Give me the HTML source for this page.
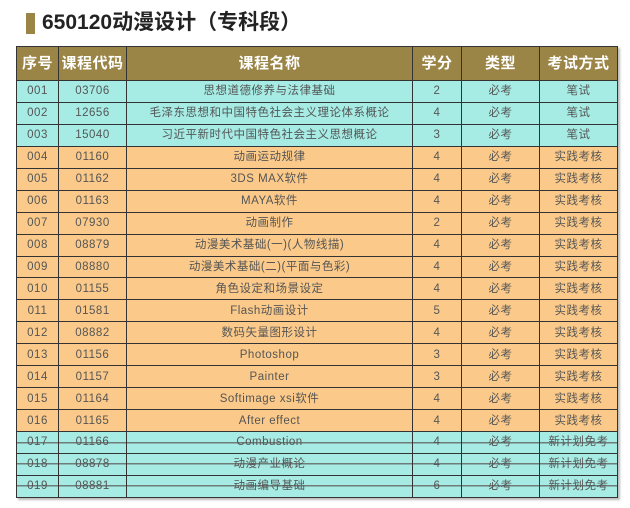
<!DOCTYPE html>
<html><head><meta charset="utf-8"><style>
body{margin:0;width:630px;height:508px;background:#fff;position:relative;font-family:"Liberation Sans","Noto Sans CJK SC",sans-serif;overflow:hidden}
.bar{position:absolute;left:26px;top:13px;width:9px;height:21px;background:#9a8446}
.title{position:absolute;left:42px;top:8px;font-size:21px;font-weight:bold;color:#222;line-height:30px}
table{position:absolute;left:16px;top:46px;border-collapse:collapse;table-layout:fixed;width:601px;box-shadow:2px 2px 2px #bbb}
td,th{border:1.5px solid #333;text-align:center;padding:0;font-size:11.5px;color:#555;letter-spacing:0.5px;line-height:14px}
th{background:#9a8446;color:#fff;font-size:15px;height:33px;font-weight:bold}
tr.c,tr.o,tr.s{height:21.95px}
tr.c td{background:#a6ece4}
tr.o td{background:#fbca8a}
tr.s td{background:linear-gradient(transparent 46%,#6f7c7a 46%,#6f7c7a 53%,transparent 53%),#a6ece4}
</style></head><body>
<div class="bar"></div><div class="title">650120动漫设计（专科段）</div>
<table>
<colgroup><col style="width:42px"><col style="width:68px"><col style="width:286px"><col style="width:49px"><col style="width:78px"><col style="width:78px"></colgroup>
<tr><th>序号</th><th>课程代码</th><th>课程名称</th><th>学分</th><th>类型</th><th>考试方式</th></tr>
<tr class="c"><td>001</td><td>03706</td><td>思想道德修养与法律基础</td><td>2</td><td>必考</td><td>笔试</td></tr>
<tr class="c"><td>002</td><td>12656</td><td>毛泽东思想和中国特色社会主义理论体系概论</td><td>4</td><td>必考</td><td>笔试</td></tr>
<tr class="c"><td>003</td><td>15040</td><td>习近平新时代中国特色社会主义思想概论</td><td>3</td><td>必考</td><td>笔试</td></tr>
<tr class="o"><td>004</td><td>01160</td><td>动画运动规律</td><td>4</td><td>必考</td><td>实践考核</td></tr>
<tr class="o"><td>005</td><td>01162</td><td>3DS MAX软件</td><td>4</td><td>必考</td><td>实践考核</td></tr>
<tr class="o"><td>006</td><td>01163</td><td>MAYA软件</td><td>4</td><td>必考</td><td>实践考核</td></tr>
<tr class="o"><td>007</td><td>07930</td><td>动画制作</td><td>2</td><td>必考</td><td>实践考核</td></tr>
<tr class="o"><td>008</td><td>08879</td><td>动漫美术基础(一)(人物线描)</td><td>4</td><td>必考</td><td>实践考核</td></tr>
<tr class="o"><td>009</td><td>08880</td><td>动漫美术基础(二)(平面与色彩)</td><td>4</td><td>必考</td><td>实践考核</td></tr>
<tr class="o"><td>010</td><td>01155</td><td>角色设定和场景设定</td><td>4</td><td>必考</td><td>实践考核</td></tr>
<tr class="o"><td>011</td><td>01581</td><td>Flash动画设计</td><td>5</td><td>必考</td><td>实践考核</td></tr>
<tr class="o"><td>012</td><td>08882</td><td>数码矢量图形设计</td><td>4</td><td>必考</td><td>实践考核</td></tr>
<tr class="o"><td>013</td><td>01156</td><td>Photoshop</td><td>3</td><td>必考</td><td>实践考核</td></tr>
<tr class="o"><td>014</td><td>01157</td><td>Painter</td><td>3</td><td>必考</td><td>实践考核</td></tr>
<tr class="o"><td>015</td><td>01164</td><td>Softimage xsi软件</td><td>4</td><td>必考</td><td>实践考核</td></tr>
<tr class="o"><td>016</td><td>01165</td><td>After effect</td><td>4</td><td>必考</td><td>实践考核</td></tr>
<tr class="s"><td>017</td><td>01166</td><td>Combustion</td><td>4</td><td>必考</td><td>新计划免考</td></tr>
<tr class="s"><td>018</td><td>08878</td><td>动漫产业概论</td><td>4</td><td>必考</td><td>新计划免考</td></tr>
<tr class="s"><td>019</td><td>08881</td><td>动画编导基础</td><td>6</td><td>必考</td><td>新计划免考</td></tr>
</table>
</body></html>
